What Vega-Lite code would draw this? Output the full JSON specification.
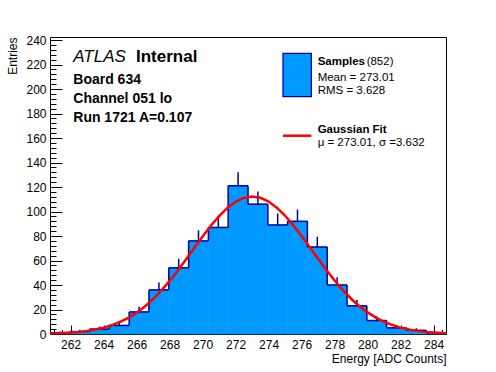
{
  "$schema": "https://vega.github.io/schema/vega-lite/v6.json",
  "autosize": "none",
  "width": 396,
  "height": 297,
  "padding": {"left": 50, "top": 37, "right": 50, "bottom": 38},
  "background": "white",
  "config": {
    "view": {"stroke": "black", "strokeWidth": 1},
    "axis": {"grid": false, "domain": false, "labelFont": "Liberation Sans", "labelFontSize": 12, "labelColor": "black", "tickColor": "black", "titleFont": "Liberation Sans", "titleFontSize": 12, "titleFontWeight": "normal", "titleColor": "black", "labelOverlap": false, "labelFlush": false, "zindex": 1},
    "text": {"font": "Liberation Sans", "align": "left", "baseline": "alphabetic", "color": "black"}
  },
  "resolve": {"axis": {"x": "independent", "y": "independent"}},
  "datasets": {
    "hist": [
      {"lo": 260.75, "hi": 261.95, "mid": 261.35, "n": 1, "up": 2},
      {"lo": 261.95, "hi": 263.15, "mid": 262.55, "n": 2, "up": 3.41},
      {"lo": 263.15, "hi": 264.35, "mid": 263.75, "n": 4, "up": 6},
      {"lo": 264.35, "hi": 265.55, "mid": 264.95, "n": 7, "up": 9.65},
      {"lo": 265.55, "hi": 266.75, "mid": 266.15, "n": 18, "up": 22.24},
      {"lo": 266.75, "hi": 267.95, "mid": 267.35, "n": 36, "up": 42},
      {"lo": 267.95, "hi": 269.15, "mid": 268.55, "n": 54, "up": 61.35},
      {"lo": 269.15, "hi": 270.35, "mid": 269.75, "n": 76, "up": 84.72},
      {"lo": 270.35, "hi": 271.55, "mid": 270.95, "n": 87, "up": 96.33},
      {"lo": 271.55, "hi": 272.75, "mid": 272.15, "n": 121, "up": 132},
      {"lo": 272.75, "hi": 273.95, "mid": 273.35, "n": 106, "up": 116.3},
      {"lo": 273.95, "hi": 275.15, "mid": 274.55, "n": 89, "up": 98.43},
      {"lo": 275.15, "hi": 276.35, "mid": 275.75, "n": 92, "up": 101.59},
      {"lo": 276.35, "hi": 277.55, "mid": 276.95, "n": 71, "up": 79.43},
      {"lo": 277.55, "hi": 278.75, "mid": 278.15, "n": 40, "up": 46.32},
      {"lo": 278.75, "hi": 279.95, "mid": 279.35, "n": 23, "up": 27.8},
      {"lo": 279.95, "hi": 281.15, "mid": 280.55, "n": 11, "up": 14.32},
      {"lo": 281.15, "hi": 282.35, "mid": 281.75, "n": 5, "up": 7.24},
      {"lo": 282.35, "hi": 283.55, "mid": 282.95, "n": 3, "up": 4.73},
      {"lo": 283.55, "hi": 284.75, "mid": 284.15, "n": 1, "up": 2}
    ],
    "fit": [
      {"x": 260.75, "f": 0.38}, {"x": 261, "f": 0.47}, {"x": 261.5, "f": 0.74}, {"x": 262, "f": 1.13},
      {"x": 262.5, "f": 1.7}, {"x": 263, "f": 2.51}, {"x": 263.5, "f": 3.64}, {"x": 264, "f": 5.17},
      {"x": 264.5, "f": 7.21}, {"x": 265, "f": 9.86}, {"x": 265.5, "f": 13.23}, {"x": 266, "f": 17.42},
      {"x": 266.5, "f": 22.51}, {"x": 267, "f": 28.53}, {"x": 267.5, "f": 35.49}, {"x": 268, "f": 43.33},
      {"x": 268.5, "f": 51.89}, {"x": 269, "f": 60.99}, {"x": 269.5, "f": 70.34}, {"x": 270, "f": 79.59},
      {"x": 270.5, "f": 88.37}, {"x": 271, "f": 96.27}, {"x": 271.5, "f": 102.91}, {"x": 272, "f": 107.95},
      {"x": 272.5, "f": 111.1}, {"x": 273, "f": 112.2}, {"x": 273.5, "f": 111.18}, {"x": 274, "f": 108.1},
      {"x": 274.5, "f": 103.15}, {"x": 275, "f": 96.56}, {"x": 275.5, "f": 88.7}, {"x": 276, "f": 79.95},
      {"x": 276.5, "f": 70.71}, {"x": 277, "f": 61.36}, {"x": 277.5, "f": 52.25}, {"x": 278, "f": 43.66},
      {"x": 278.5, "f": 35.79}, {"x": 279, "f": 28.79}, {"x": 279.5, "f": 22.73}, {"x": 280, "f": 17.61},
      {"x": 280.5, "f": 13.37}, {"x": 281, "f": 9.98}, {"x": 281.5, "f": 7.3}, {"x": 282, "f": 5.24},
      {"x": 282.5, "f": 3.69}, {"x": 283, "f": 2.55}, {"x": 283.5, "f": 1.73}, {"x": 284, "f": 1.15},
      {"x": 284.5, "f": 0.75}, {"x": 284.75, "f": 0.6}
    ],
    "atlas": [{"label": "ATLAS", "ex": 262.16, "ey": 222.3}],
    "internal": [{"label": "Internal", "ex": 265.96, "ey": 222.3}],
    "info": [
      {"label": "Board 634", "ex": 262.16, "ey": 203.9},
      {"label": "Channel 051 lo", "ex": 262.16, "ey": 188.4},
      {"label": "Run 1721 A=0.107", "ex": 262.16, "ey": 172.9}
    ],
    "legbold": [
      {"label": "Samples", "ex": 276.97, "ey": 219.4},
      {"label": "Gaussian Fit", "ex": 276.97, "ey": 163.9}
    ],
    "legreg": [
      {"label": "(852)", "ex": 279.94, "ey": 219.4},
      {"label": "Mean = 273.01", "ex": 276.97, "ey": 206.8},
      {"label": "RMS = 3.628", "ex": 276.97, "ey": 195.7},
      {"label": "μ = 273.01, σ =3.632", "ex": 276.97, "ey": 153.8}
    ],
    "legbox": [{"x0": 274.87, "x1": 276.59, "y0": 193.8, "y1": 229.2}],
    "legline": [{"x0": 274.87, "x1": 276.59, "y0": 161.9}]
  },
  "layer": [
    {
      "data": {"name": "hist"},
      "mark": {"type": "rect", "fill": "#0099ff", "stroke": "#0099ff", "strokeWidth": 0.6},
      "encoding": {
        "x": {"field": "lo", "type": "quantitative", "scale": {"domain": [260.75, 284.75], "nice": false, "zero": false},
          "axis": {
            "orient": "bottom",
            "title": "Energy [ADC Counts]",
            "values": [262, 264, 266, 268, 270, 272, 274, 276, 278, 280, 282, 284],
            "format": "d",
            "tickSize": -9,
            "labelPadding": 14,
            "titleX": 396, "titleY": 28, "titleAlign": "right", "titleAnchor": "end", "titleBaseline": "alphabetic"
          }},
        "x2": {"field": "hi"},
        "y": {"field": "n", "type": "quantitative", "scale": {"domain": [0, 242.5], "nice": false},
          "axis": {
            "orient": "left",
            "title": "Entries",
            "values": [0, 20, 40, 60, 80, 100, 120, 140, 160, 180, 200, 220, 240],
            "format": "d",
            "tickSize": -12,
            "labelPadding": 16,
            "titleX": -38, "titleY": 0, "titleAngle": 270, "titleAlign": "right", "titleAnchor": "end", "titleBaseline": "middle"
          }},
        "y2": {"datum": 0}
      }
    },
    {
      "data": {"name": "hist"},
      "mark": {"type": "rule", "color": "#000099", "strokeWidth": 1.5},
      "encoding": {
        "x": {"field": "mid", "type": "quantitative",
          "axis": {
            "orient": "bottom", "title": null, "labels": false,
            "values": [261,261.5,262.5,263,263.5,264.5,265,265.5,266.5,267,267.5,268.5,269,269.5,270.5,271,271.5,272.5,273,273.5,274.5,275,275.5,276.5,277,277.5,278.5,279,279.5,280.5,281,281.5,282.5,283,283.5,284.5],
            "tickSize": -4.5
          }},
        "y": {"field": "n", "type": "quantitative",
          "axis": {
            "orient": "left", "title": null, "labels": false,
            "values": [4,8,12,16,24,28,32,36,44,48,52,56,64,68,72,76,84,88,92,96,104,108,112,116,124,128,132,136,144,148,152,156,164,168,172,176,184,188,192,196,204,208,212,216,224,228,232,236],
            "tickSize": -6
          }},
        "y2": {"field": "up"}
      }
    },
    {
      "data": {"name": "hist"},
      "mark": {"type": "rule", "color": "#000099", "strokeWidth": 1.5},
      "encoding": {
        "x": {"field": "lo", "type": "quantitative", "axis": null},
        "x2": {"field": "hi"},
        "y": {"field": "n", "type": "quantitative", "axis": null}
      }
    },
    {
      "data": {"name": "hist"},
      "transform": [
        {"window": [{"op": "lag", "field": "n", "as": "prev"}], "sort": [{"field": "lo"}]},
        {"filter": "datum.prev != null"}
      ],
      "mark": {"type": "rule", "color": "#000099", "strokeWidth": 1.5},
      "encoding": {
        "x": {"field": "lo", "type": "quantitative", "axis": null},
        "y": {"field": "prev", "type": "quantitative", "axis": null},
        "y2": {"field": "n"}
      }
    },
    {
      "data": {"name": "fit"},
      "mark": {"type": "line", "color": "#ff0000", "strokeWidth": 2.5, "clip": true},
      "encoding": {
        "x": {"field": "x", "type": "quantitative", "axis": null},
        "y": {"field": "f", "type": "quantitative", "axis": null}
      }
    },
    {
      "data": {"name": "legbox"},
      "mark": {"type": "rect", "fill": "#0099ff", "stroke": "#000099", "strokeWidth": 1.2},
      "encoding": {
        "x": {"field": "x0", "type": "quantitative", "axis": null},
        "x2": {"field": "x1"},
        "y": {"field": "y0", "type": "quantitative", "axis": null},
        "y2": {"field": "y1"}
      }
    },
    {
      "data": {"name": "legline"},
      "mark": {"type": "rule", "color": "#ff0000", "strokeWidth": 2.5},
      "encoding": {
        "x": {"field": "x0", "type": "quantitative", "axis": null},
        "x2": {"field": "x1"},
        "y": {"field": "y0", "type": "quantitative", "axis": null}
      }
    },
    {
      "data": {"name": "atlas"},
      "mark": {"type": "text", "fontSize": 17, "fontStyle": "italic", "fontWeight": "normal"},
      "encoding": {
        "x": {"field": "ex", "type": "quantitative", "axis": null},
        "y": {"field": "ey", "type": "quantitative", "axis": null},
        "text": {"field": "label"}
      }
    },
    {
      "data": {"name": "internal"},
      "mark": {"type": "text", "fontSize": 17, "fontWeight": "bold"},
      "encoding": {
        "x": {"field": "ex", "type": "quantitative", "axis": null},
        "y": {"field": "ey", "type": "quantitative", "axis": null},
        "text": {"field": "label"}
      }
    },
    {
      "data": {"name": "info"},
      "mark": {"type": "text", "fontSize": 14, "fontWeight": "bold"},
      "encoding": {
        "x": {"field": "ex", "type": "quantitative", "axis": null},
        "y": {"field": "ey", "type": "quantitative", "axis": null},
        "text": {"field": "label"}
      }
    },
    {
      "data": {"name": "legbold"},
      "mark": {"type": "text", "fontSize": 11.5, "fontWeight": "bold"},
      "encoding": {
        "x": {"field": "ex", "type": "quantitative", "axis": null},
        "y": {"field": "ey", "type": "quantitative", "axis": null},
        "text": {"field": "label"}
      }
    },
    {
      "data": {"name": "legreg"},
      "mark": {"type": "text", "fontSize": 11.5, "fontWeight": "normal"},
      "encoding": {
        "x": {"field": "ex", "type": "quantitative", "axis": null},
        "y": {"field": "ey", "type": "quantitative", "axis": null},
        "text": {"field": "label"}
      }
    }
  ]
}
